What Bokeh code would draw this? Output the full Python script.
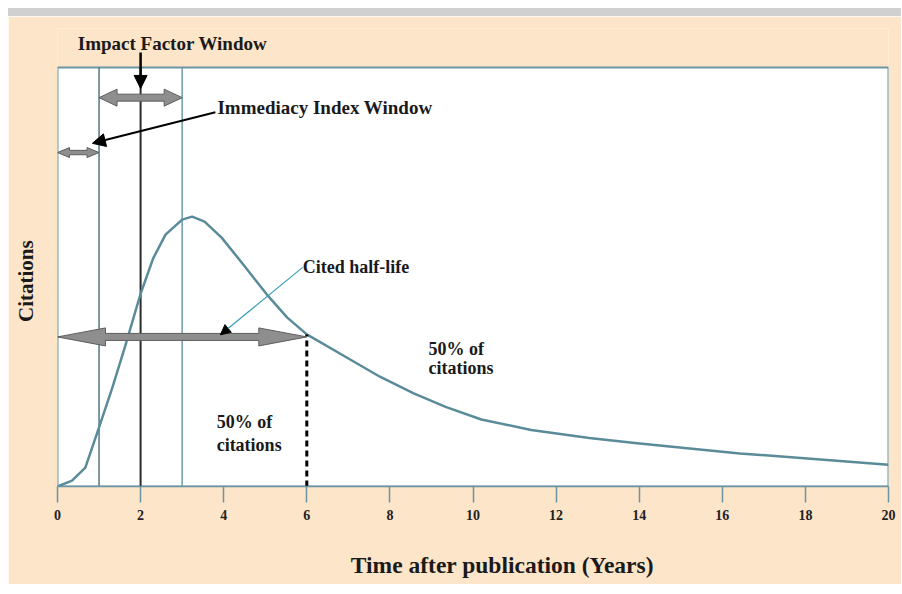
from bokeh.plotting import figure
from bokeh.models import Range1d, Label, Arrow, NormalHead, FixedTicker
from bokeh.embed import file_html
from bokeh.resources import INLINE

# ---- data ----
years = [0, 0.35, 0.67, 1.0, 1.32, 1.62, 2.0, 2.3, 2.6, 3.0, 3.24, 3.54, 3.95, 4.47,
         5.04, 5.53, 6.0, 6.94, 7.76, 8.56, 9.34, 10.2, 11.4, 12.8, 13.95, 16.42,
         18.05, 20.0]
citations = [0, 1.4, 4.5, 14.1, 23.6, 33.2, 46.0, 54.4, 60.1, 63.7, 64.4, 63.2, 59.4, 53.0,
             45.8, 40.3, 36.3, 30.9, 26.2, 22.3, 19.0, 16.0, 13.5, 11.6, 10.3, 7.9,
             6.7, 5.2]
x_ticks = [0, 2, 4, 6, 8, 10, 12, 14, 16, 18, 20]
immediacy_window = [0, 1]
impact_window = [1, 3]
impact_year = 2
half_life = 6

BEIGE = "#fde5c9"
TEAL = "#6a95a2"
CURVE = "#5a8b98"
FONT = "Liberation Serif"
NBSP = "\u00a0"

W, H = 893, 576
ML, MR, MT, MB = 49, 13, 12, 106
XMAX, BOX_TOP = 20, 100
SX = (W - ML - MR) / XMAX          # px per year
BOX_PX = 419                        # pixel height of the box (0..100)
SY = BOX_PX / BOX_TOP
YTOP = (H - MT - MB) / SY

p = figure(width=W, height=H, x_range=Range1d(0, XMAX), y_range=Range1d(0, YTOP),
           output_backend="svg", toolbar_location=None,
           min_border_left=ML, min_border_right=MR, min_border_top=MT, min_border_bottom=MB)
p.styles = {"margin-left": "8px", "margin-top": "8px", "border-top": "8px solid #d0d0d0"}
p.border_fill_color = BEIGE
p.background_fill_color = BEIGE
p.outline_line_color = None
p.xgrid.visible = False
p.ygrid.visible = False

# x axis
p.xaxis.ticker = FixedTicker(ticks=x_ticks)
p.xaxis.axis_line_color = TEAL
p.xaxis.axis_line_width = 1.5
p.xaxis.major_tick_line_color = TEAL
p.xaxis.major_tick_line_width = 1.5
p.xaxis.major_tick_out = 16
p.xaxis.major_tick_in = 0
p.xaxis.minor_tick_line_color = None
p.xaxis.major_label_text_font = FONT
p.xaxis.major_label_text_font_style = "bold"
p.xaxis.major_label_text_font_size = "14px"
p.xaxis.major_label_text_color = "#222222"
p.xaxis.major_label_standoff = 7
p.xaxis.axis_label = NBSP * 10 + "Time after publication (Years)"
p.xaxis.axis_label_text_font = FONT
p.xaxis.axis_label_text_font_style = "bold"
p.xaxis.axis_label_text_font_size = "23.5px"
p.xaxis.axis_label_text_color = "#1a1a1a"
p.xaxis.axis_label_standoff = 29

# y axis (label only)
p.yaxis.ticker = FixedTicker(ticks=[])
p.yaxis.axis_line_color = None
p.yaxis.major_tick_line_color = None
p.yaxis.minor_tick_line_color = None
p.yaxis.axis_label = "Citations" + NBSP * 9
p.yaxis.axis_label_text_font = FONT
p.yaxis.axis_label_text_font_style = "bold"
p.yaxis.axis_label_text_font_size = "21px"
p.yaxis.axis_label_text_color = "#1a1a1a"
p.yaxis.axis_label_standoff = 20

# plot box
p.quad(left=[0], right=[XMAX], bottom=[0], top=[BOX_TOP],
       fill_color="white", line_color=TEAL, line_width=2)

# window lines
p.segment(x0=[immediacy_window[1]], y0=[0], x1=[immediacy_window[1]], y1=[BOX_TOP],
          line_color="#4f7885", line_width=1.5)
p.segment(x0=[impact_window[1]], y0=[0], x1=[impact_window[1]], y1=[BOX_TOP],
          line_color="#6f9cab", line_width=1.5)
p.segment(x0=[impact_year], y0=[0], x1=[impact_year], y1=[BOX_TOP],
          line_color="#2b2b2b", line_width=2)

# curve
p.line(years, citations, line_color=CURVE, line_width=2.5, line_join="round")

hl_y = citations[years.index(half_life)]

# dashed half-life line
p.segment(x0=[half_life], y0=[0], x1=[half_life], y1=[hl_y],
          line_color="black", line_width=3, line_dash="6 4")


def block_arrow(x0, x1, yc, shaft_px, head_w_px, head_len_px):
    hl = head_len_px / SX
    sh = shaft_px / SY
    hw = head_w_px / SY
    xs = [x0, x0 + hl, x0 + hl, x1 - hl, x1 - hl, x1, x1 - hl, x1 - hl, x0 + hl, x0 + hl]
    ys = [yc, yc + hw, yc + sh, yc + sh, yc + hw, yc, yc - hw, yc - sh, yc - sh, yc - hw]
    p.patch(xs, ys, fill_color="#8e8e8e", line_color="#5e5e5e", line_width=1)


block_arrow(impact_window[0], impact_window[1], 92.8, 3.5, 8.5, 18)
block_arrow(immediacy_window[0], immediacy_window[1], 79.7, 2.2, 5, 12)
block_arrow(0, half_life, hl_y - 0.6, 3.5, 9, 48)

# pointer arrows
p.add_layout(Arrow(end=NormalHead(size=13, fill_color="black", line_color="black"),
                   x_start=impact_year, y_start=103.6, x_end=impact_year, y_end=95.0,
                   line_color="black", line_width=2.5))
p.add_layout(Arrow(end=NormalHead(size=13, fill_color="black", line_color="black"),
                   x_start=3.8, y_start=89.3, x_end=0.84, y_end=81.9,
                   line_color="black", line_width=2))
p.add_layout(Arrow(end=NormalHead(size=10, fill_color="black", line_color="black"),
                   x_start=5.9, y_start=52.3, x_end=3.92, y_end=36.2,
                   line_color="#3a9fbd", line_width=1.2))


def lab(x, y, text, size, align="left"):
    p.add_layout(Label(x=x, y=y, text=text, text_font=FONT, text_font_style="bold",
                       text_font_size=size, text_color="#1a1a1a",
                       text_align=align, text_baseline="middle"))


lab(2.77, 105.7, "Impact Factor Window", "19px", "center")
lab(3.85, 90.5, "Immediacy Index Window", "19px")
lab(5.9, 52.3, "Cited half-life", "18px")
lab(3.83, 15.3, "50% of", "18px")
lab(3.83, 9.9, "citations", "18px")
lab(8.93, 32.9, "50% of", "18px")
lab(8.93, 28.2, "citations", "18px")

open("out.html", "w").write(file_html(p, INLINE))
